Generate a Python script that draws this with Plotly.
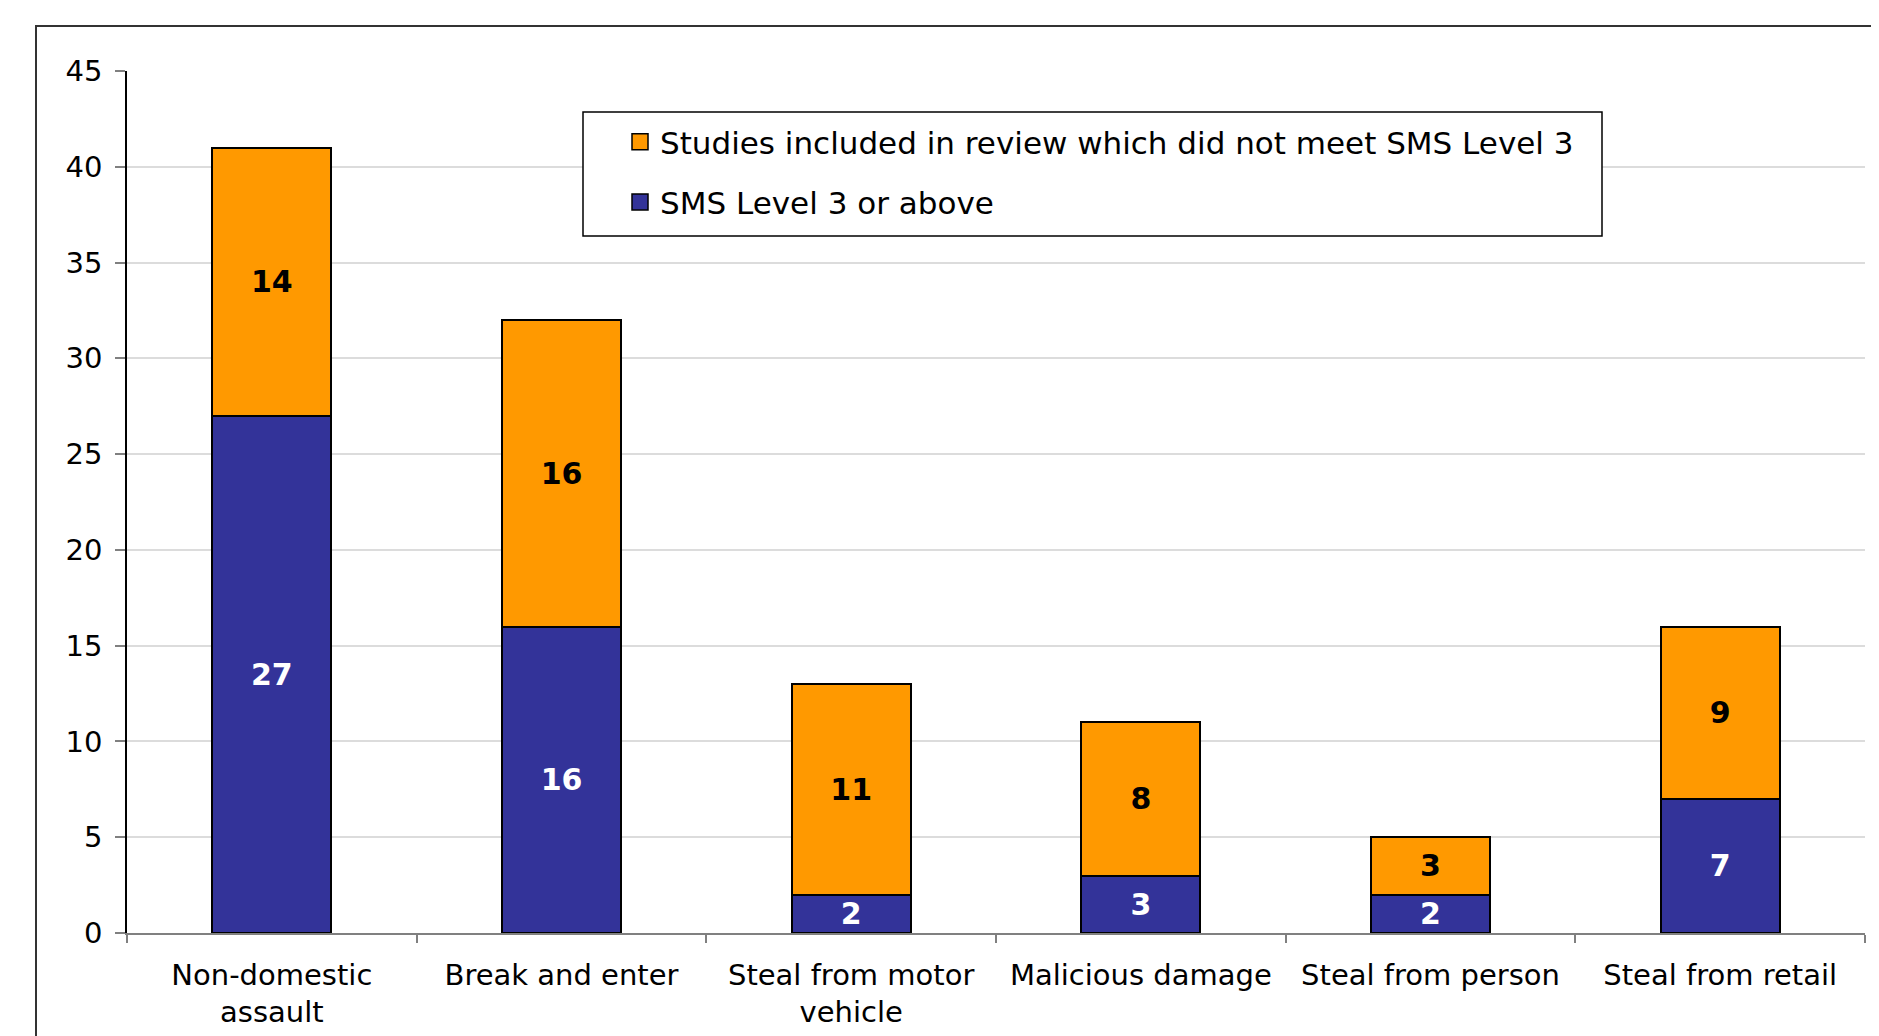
import plotly.graph_objects as go

categories = ["Non-domestic<br>assault", "Break and enter", "Steal from motor<br>vehicle",
              "Malicious damage", "Steal from person", "Steal from retail"]
sms3_or_above = [27, 16, 2, 3, 2, 7]
not_meet_sms3 = [14, 16, 11, 8, 3, 9]
y_ticks = [0, 5, 10, 15, 20, 25, 30, 35, 40, 45]
series_names = ["SMS Level 3 or above", "Studies included in review which did not meet SMS Level 3"]
series_colors = ["#333399", "#FF9900"]

FONT = "DejaVu Sans, Liberation Sans, Arial, sans-serif"
OFF = 8  # page body margin
W, H = 1879 - OFF, 1036 - OFF
L, R, T, B = 127 - OFF, 14, 71 - OFF, H - (933 - OFF)
pw, ph = W - L - R, H - T - B

def px_x(x):  # screen px -> paper
    return (x - OFF - L) / pw

def px_y(y):
    return (H - B - (y - OFF)) / ph

fig = go.Figure()
for vals, name, color, tcolor in [(sms3_or_above, series_names[0], series_colors[0], "white"),
                                  (not_meet_sms3, series_names[1], series_colors[1], "black")]:
    fig.add_trace(go.Bar(
        x=categories, y=vals, name=name, showlegend=False,
        marker=dict(color=color, line=dict(color="#000000", width=2)),
        text=vals, texttemplate="<b>%{text}</b>", textposition="inside",
        insidetextanchor="middle", textangle=0, constraintext="none",
        textfont=dict(color=tcolor, size=30, family=FONT),
        hoverinfo="skip"))

# legend entries (square swatches)
for rank, name, color in [(2, series_names[0], series_colors[0]), (1, series_names[1], series_colors[1])]:
    fig.add_trace(go.Scatter(
        x=[None], y=[None], mode="markers", name=name, legendrank=rank, legendgroup=name,
        marker=dict(symbol="square", size=18, color=color, line=dict(color="#000000", width=1.5)),
        hoverinfo="skip"))

fig.update_layout(
    width=W, height=H,
    margin=dict(l=L, r=R, t=T, b=B, autoexpand=False),
    paper_bgcolor="white", plot_bgcolor="white",
    barmode="stack", bargap=0.59,
    font=dict(family=FONT, size=29, color="black"),
    showlegend=True,
    legend=dict(x=px_x(620), y=px_y(115), xanchor="left", yanchor="top",
                traceorder="grouped", tracegroupgap=17, itemsizing="trace",
                font=dict(size=31, family=FONT, color="black"),
                bgcolor="rgba(0,0,0,0)", borderwidth=0),
    uniformtext=dict(minsize=28, mode="show"),
)
fig.update_yaxes(range=[0, 45], tickvals=y_ticks, showgrid=True, gridcolor="#dcdcdc", gridwidth=1.5,
                 showline=True, linecolor="#000000", linewidth=1.5,
                 ticks="outside", ticklen=10, tickcolor="#808080", tickwidth=1.5,
                 ticklabelstandoff=7,
                 tickfont=dict(size=29, family=FONT, color="black"), zeroline=False)
fig.update_xaxes(showline=True, linecolor="#808080", linewidth=1.5,
                 ticks="outside", ticklen=8, tickcolor="#808080", tickwidth=1.5,
                 tickson="boundaries", ticklabelstandoff=15,
                 tickfont=dict(size=29, family=FONT, color="black"))

# outer chart frame
fig.add_shape(type="rect", xref="paper", yref="paper",
              x0=px_x(36), x1=px_x(1900), y0=px_y(1060), y1=px_y(26),
              line=dict(color="#333333", width=2), fillcolor="rgba(0,0,0,0)", layer="below")
# legend box
fig.add_shape(type="rect", xref="paper", yref="paper",
              x0=px_x(583), x1=px_x(1602), y0=px_y(236), y1=px_y(112),
              line=dict(color="#000000", width=1.5), fillcolor="white", layer="above")

fig.write_html("out.html")
